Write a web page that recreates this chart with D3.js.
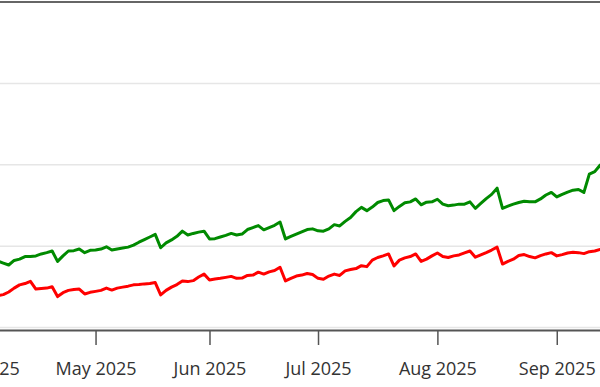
<!DOCTYPE html>
<html>
<head>
<meta charset="utf-8">
<script src="https://cdn.jsdelivr.net/npm/d3@7"></script>
<style>
  html, body { margin: 0; padding: 0; background: #fff; }
  svg { display: block; }
</style>
</head>
<body>
<div id="chart"></div>
<script>
// trading-day index -> values
const greenSeries = [
  18.9, 19.8, 19.5, 20.4, 19.8, 19.2, 20.6, 21.0, 21.8, 21.8,
  22.0, 22.6, 23.0, 23.5, 20.3, 22.0, 23.5, 23.6, 24.1, 23.0,
  23.7, 23.8, 24.1, 24.8, 23.8, 24.1, 24.4, 24.7, 25.3, 26.2,
  27.0, 27.8, 28.6, 24.5, 26.0, 26.9, 28.0, 29.6, 28.4, 28.9,
  29.3, 29.6, 27.2, 27.3, 27.8, 28.3, 28.9, 28.4, 28.7, 30.1,
  30.7, 31.3, 30.0, 30.7, 31.4, 32.4, 27.2, 28.0, 28.7, 29.4,
  30.1, 30.3, 29.7, 29.6, 30.3, 31.6, 31.2, 32.6, 33.8, 35.6,
  36.9, 35.9, 37.0, 38.4, 39.0, 39.2, 35.9, 37.2, 38.3, 38.6,
  39.5, 37.7, 38.5, 38.6, 39.4, 37.9, 37.4, 37.6, 37.9, 37.9,
  38.6, 36.6, 38.1, 39.6, 40.9, 42.8, 36.6, 37.3, 37.9, 38.4,
  38.8, 38.6, 38.6, 39.5, 40.7, 41.5, 40.1, 40.9, 41.6, 42.2,
  42.4, 41.5, 47.1, 47.9, 49.9, 50.8
];
const redSeries = [
  8.4, 9.4, 9.1, 9.8, 10.1, 10.9, 12.1, 13.1, 13.5, 14.2,
  11.8, 12.0, 12.1, 12.5, 9.5, 10.7, 11.4, 11.7, 11.8, 10.3,
  10.8, 11.1, 11.4, 12.1, 11.5, 12.1, 12.4, 12.7, 13.1, 13.2,
  13.4, 13.5, 13.8, 10.0, 11.4, 12.4, 13.2, 14.3, 14.1, 14.4,
  15.5, 16.4, 14.6, 14.9, 15.1, 15.4, 15.7, 15.1, 15.2, 16.0,
  16.1, 17.0, 16.4, 17.1, 17.5, 18.5, 14.3, 15.1, 15.8, 16.1,
  16.6, 16.3, 15.1, 14.8, 15.8, 16.4, 16.0, 17.4, 17.8, 18.1,
  19.0, 18.7, 20.7, 21.5, 22.0, 22.6, 18.9, 20.7, 21.4, 21.8,
  22.6, 20.3, 21.0, 22.0, 22.9, 21.8, 21.5, 22.0, 22.3, 22.9,
  23.5, 21.6, 22.3, 23.0, 23.8, 24.7, 19.5, 20.3, 21.0, 22.1,
  22.4, 21.8, 21.4, 22.1, 22.6, 23.0, 22.0, 22.4, 22.9, 23.1,
  23.0, 22.7, 23.3, 23.5, 24.0, 24.1
];
// first trading day of each month (index into the series)
const monthTickIdx = [0, 21, 42, 62, 84, 106];
const monthLabels = ["Apr 2025", "May 2025", "Jun 2025", "Jul 2025", "Aug 2025", "Sep 2025"];
const gridValues = [0, 25, 50, 75];
const yMax = 100;

const W = 600, H = 387;
const svg = d3.select("#chart").append("svg")
  .attr("width", W).attr("height", H);

const x = d3.scaleLinear().domain([0, greenSeries.length - 1]).range([-18.4, 605.6]);
const y = d3.scaleLinear().domain([0, yMax]).range([327.5, 2]);

// gridlines
svg.append("g").selectAll("line")
  .data(gridValues)
  .join("line")
  .attr("x1", 0).attr("x2", W)
  .attr("y1", d => y(d)).attr("y2", d => y(d))
  .attr("stroke", "#e6e6e6")
  .attr("stroke-width", 1.5);

// top frame line
svg.append("line")
  .attr("x1", 0).attr("x2", W)
  .attr("y1", y(yMax)).attr("y2", y(yMax))
  .attr("stroke", "#666")
  .attr("stroke-width", 2);

const line = d3.line()
  .x((d, i) => x(i))
  .y(d => y(d));

svg.append("path")
  .datum(greenSeries)
  .attr("d", line)
  .attr("fill", "none")
  .attr("stroke", "#008a00")
  .attr("stroke-width", 3)
  .attr("stroke-linejoin", "round");

svg.append("path")
  .datum(redSeries)
  .attr("d", line)
  .attr("fill", "none")
  .attr("stroke", "#ff0000")
  .attr("stroke-width", 3)
  .attr("stroke-linejoin", "round");

// x axis
const xAxis = d3.axisBottom(x)
  .tickValues(monthTickIdx)
  .tickFormat((d, i) => monthLabels[i])
  .tickSize(15)
  .tickSizeOuter(0)
  .tickPadding(17);

const gx = svg.append("g")
  .attr("transform", "translate(0,330)")
  .call(xAxis);
gx.select(".domain").attr("stroke", "#555").attr("stroke-width", 2);
gx.selectAll(".tick line").attr("stroke", "#555").attr("stroke-width", 1.5);
gx.selectAll(".tick text")
  .attr("fill", "#333")
  .style("font-family", "'Open Sans', 'Noto Sans', sans-serif")
  .style("font-size", "18px");
</script>
</body>
</html>
